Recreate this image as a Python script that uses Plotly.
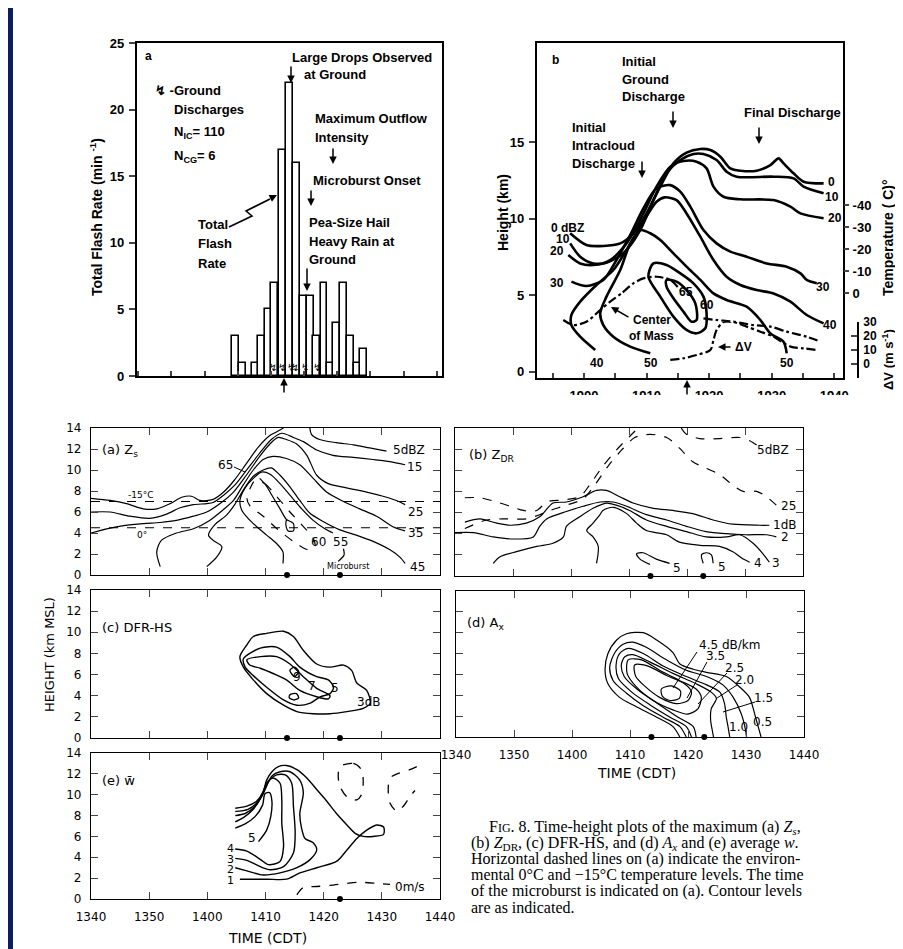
import plotly.graph_objects as go

W, H = 903, 949
NAVY = "#0b1f5e"
TOP_FONT = "Liberation Sans Narrow, Liberation Sans, Arial"
LAB_FONT = "DejaVu Sans"
CAP_FONT = "Liberation Serif"
OFF = 8  # the page body puts the figure 8 px right and down

# ---------------- top (a): total flash rate ----------------
flash_time = [1909.6, 1910.7, 1911.7, 1912.6, 1913.6, 1914.6, 1915.6, 1916.7, 1917.8, 1918.9,
              1919.9, 1920.9, 1921.9, 1923.0, 1924.0, 1924.9, 1926.0, 1927.0, 1928.0, 1929.0]
flash_rate = [3, 1, 0, 1, 3, 5, 7, 17, 22, 16, 6, 6, 3, 7, 1, 4, 7, 3, 1, 2]
cg_time = [1915.3, 1916.6, 1918.1, 1918.6, 1920.2, 1921.9]
cg_rate = [0.6, 0.6, 0.6, 0.6, 0.6, 0.6]

# ---------------- top (b): reflectivity contours, height (km) ----------------
b0_t = [1897.8, 1900.4, 1903.1, 1905.8, 1907.9, 1910.0, 1912.2, 1914.3, 1916.4, 1918.6, 1920.2,
        1921.8, 1923.4, 1925.0, 1927.6, 1929.8, 1931.1, 1931.9, 1933.5, 1935.1, 1938.3]
b0_z = [9.06, 8.29, 8.23, 8.40, 9.06, 10.36, 12.11, 13.63, 14.33, 14.57, 14.50,
        14.07, 13.30, 13.15, 13.15, 13.52, 13.96, 13.63, 12.98, 12.43, 12.32]
b10_t = [1897.8, 1899.4, 1901.5, 1903.6, 1906.3, 1909.0, 1911.1, 1913.2, 1915.4, 1917.5, 1919.1,
         1921.2, 1922.8, 1924.4, 1930.3, 1933.5, 1935.1, 1938.3]
b10_z = [8.40, 7.53, 7.09, 7.14, 7.75, 9.27, 11.23, 12.98, 13.85, 14.24, 14.24,
         13.85, 13.09, 12.76, 12.76, 12.65, 12.11, 11.67]
b20_t = [1897.5, 1899.4, 1901.5, 1904.2, 1906.8, 1909.5, 1911.6, 1913.8, 1915.9, 1918.0, 1919.6,
         1920.7, 1922.3, 1925.0, 1930.3, 1933.0, 1934.6, 1938.3]
b20_z = [7.64, 7.09, 6.99, 7.31, 8.40, 10.36, 12.11, 13.41, 13.78, 13.74, 13.30,
         12.11, 11.45, 11.28, 11.23, 10.80, 10.36, 10.04]
b30_t = [1898.0, 1900.4, 1903.1, 1905.2, 1907.4, 1909.5, 1911.6, 1913.8, 1915.4, 1917.0, 1919.1,
         1921.2, 1923.4, 1926.0, 1929.2, 1932.4, 1934.6, 1935.6, 1937.2]
b30_z = [5.90, 5.61, 6.01, 7.31, 8.95, 10.69, 12.00, 12.21, 11.78, 10.80, 9.27,
         8.40, 7.86, 7.53, 7.09, 6.88, 6.44, 6.01, 5.79]
b40_t = [1901.8, 1899.4, 1898.0, 1898.0, 1899.4, 1902.0, 1904.7, 1906.8, 1909.5, 1911.6, 1912.9,
         1914.8, 1916.4, 1918.6, 1920.7, 1922.8, 1925.0, 1927.6, 1930.3, 1933.0, 1935.6, 1938.3]
b40_z = [1.43, 2.30, 3.06, 3.72, 4.59, 5.68, 6.66, 7.97, 9.82, 11.12, 11.41,
         11.23, 10.36, 8.84, 7.31, 6.22, 5.68, 5.35, 5.13, 4.59, 3.72, 3.17]
b50_t = [1910.6, 1907.4, 1904.7, 1903.1, 1902.6, 1903.6, 1905.8, 1907.4, 1909.0, 1910.6, 1912.2,
         1914.3, 1916.4, 1918.6, 1920.7, 1922.8, 1926.0, 1928.2, 1929.8, 1931.9, 1932.4]
b50_z = [1.21, 1.65, 2.30, 3.06, 3.83, 4.92, 6.66, 8.40, 9.27, 9.06, 8.62,
         7.75, 6.88, 6.01, 5.13, 4.70, 4.26, 3.39, 2.52, 1.97, 1.21]
b60_t = [1911.1, 1913.2, 1915.4, 1917.5, 1919.1, 1919.6, 1919.4, 1918.0, 1916.4, 1914.3, 1912.2, 1910.3, 1911.1]
b60_z = [7.09, 6.99, 6.44, 5.79, 4.92, 3.83, 2.85, 2.52, 2.74, 3.61, 4.92, 6.22, 7.09]
b65_t = [1913.2, 1914.8, 1916.4, 1917.8, 1918.0, 1917.2, 1915.9, 1914.3, 1913.2, 1913.2]
b65_z = [6.01, 5.90, 5.35, 4.48, 3.39, 3.28, 3.94, 4.81, 5.57, 6.01]
com_t = [1896.7, 1898.3, 1900.4, 1902.6, 1904.2, 1906.0, 1907.9, 1909.5, 1911.6, 1913.8, 1915.4, None,
         1919.1, 1921.2, 1923.9, 1927.1, 1929.8, 1932.4, 1935.6, 1937.8]
com_z = [3.39, 3.06, 3.28, 4.04, 4.59, 5.13, 5.79, 6.11, 6.22, 6.01, 5.35, None,
         3.50, 3.39, 3.28, 3.06, 2.96, 2.63, 2.30, 1.97]
dv_t = [1913.8, 1915.9, 1918.0, 1920.2, 1920.7, 1921.2, 1922.3, 1923.9, 1926.0, 1928.2, 1930.3,
        1933.0, 1935.1, 1937.2]
dv_ms = [2.9, 4.1, 6.4, 10.0, 17.1, 24.3, 30.0, 30.0, 26.7, 23.1, 19.5, 12.4, 11.2, 10.0]

# ---------------- bottom panels: minutes after 1340 CDT, height km MSL ----------------
time_ticks = [0, 10, 20, 30, 40, 50, 60]
time_labels = ["1340", "1350", "1400", "1410", "1420", "1430", "1440"]
height_ticks = [0, 2, 4, 6, 8, 10, 12, 14]
dot_t = [33.7, 42.8]
dot_z = [0, 0]

# (a) Zs
iso_t = [0, 60]
iso_m15 = [7.0, 7.0]
iso_0 = [4.5, 4.5]
zs5_t = [0.0, 3.3, 6.1, 9.0, 11.3, 13.6, 15.6, 17.3, 18.7, 21.0, 22.8, 24.6, 26.7, 28.8, 30.8, 32.5, 34.0,
         None, 37.6, 37.9, 39.3, 42.2, 45.1, 47.9, 50.8]
zs5_z = [7.3, 7.1, 6.8, 6.3, 6.3, 6.8, 7.4, 7.5, 7.1, 7.2, 7.9, 9.0, 10.6, 12.2, 13.3, 13.8, 14.4,
         None, 14.1, 13.4, 12.9, 12.6, 12.4, 12.1, 11.8]
zs15_t = [0.0, 3.3, 6.7, 10.1, 13.0, 15.3, 17.6, 19.9, 21.0, 22.8, 24.8, 26.9, 29.0, 31.0, 32.8, 34.8,
          36.5, 38.8, 41.6, 45.1, 48.5, 51.4, 54.0]
zs15_z = [6.0, 6.0, 5.6, 5.4, 5.8, 6.4, 6.7, 6.8, 6.9, 7.6, 8.6, 10.1, 11.6, 12.9, 13.5, 13.1,
          12.7, 11.9, 11.4, 11.2, 11.0, 10.8, 10.5]
zs25_t = [0.0, 2.7, 5.6, 9.0, 11.9, 14.7, 17.6, 19.9, 22.2, 24.5, 26.7, 29.0, 30.8, 32.2, 33.6, 35.3,
          37.1, 38.8, 40.8, 43.9, 47.4, 50.2, 52.5, 54.0]
zs25_z = [4.0, 4.4, 4.7, 4.9, 5.0, 5.2, 5.6, 6.0, 6.8, 7.9, 9.5, 11.3, 12.5, 13.1, 12.9, 12.5,
          11.4, 9.5, 8.7, 8.3, 7.9, 7.5, 7.1, 6.7]
zs35_t = [11.9, 11.3, 12.1, 14.7, 17.6, 20.4, 22.7, 24.5, 26.2, 27.9, 29.6, 31.3, 33.6, 35.9, 38.2,
          40.5, 43.4, 46.2, 49.1, 51.9, 54.0]
zs35_z = [0.8, 2.2, 3.3, 4.0, 4.4, 5.2, 6.2, 7.1, 8.6, 10.0, 11.0, 11.3, 11.1, 10.5, 9.2,
          7.9, 7.0, 6.3, 5.6, 4.6, 4.2]
zs45_t = [19.9, 21.6, 22.5, 21.0, 20.2, 21.3, 23.3, 24.7, 26.2, 27.9, 29.6, 31.0, 32.5, 34.2, 35.9,
          37.6, 39.9, 42.8, 45.6, 48.5, 51.4, 53.1, 54.0]
zs45_z = [0.8, 1.7, 2.7, 3.3, 3.8, 4.8, 5.7, 6.7, 8.1, 9.4, 10.0, 10.2, 9.5, 8.4, 7.1,
          5.9, 5.1, 4.3, 3.8, 3.2, 2.4, 1.7, 1.1]
zs55_t = [33.0, 33.0, 31.9, 30.2, 28.5, 27.0, 25.9, 25.6, 26.5, 27.9, 29.3, 30.8, 32.5, 34.2, 35.9,
          38.2, 40.2, 41.6, None, 43.4, 43.5, 42.5]
zs55_z = [1.1, 2.2, 3.0, 3.8, 4.6, 5.4, 6.2, 7.1, 8.3, 9.2, 9.8, 9.6, 8.7, 7.6, 6.5,
          5.2, 4.4, 4.0, None, 2.5, 1.9, 1.3]
zs60_t = [28.2, 29.9, 31.9, 34.2, 36.2, 38.2, 38.5, 37.3, 34.8, 32.2, 29.6, 27.3, 26.8, 27.4, 28.2]
zs60_z = [9.0, 8.7, 7.5, 6.0, 4.8, 3.5, 2.7, 2.4, 3.2, 4.3, 5.6, 6.6, 7.3, 8.3, 9.0]
zs65_t = [29.0, 30.0, 31.2, 32.5, 33.6, 34.8, 34.8, 33.9, 33.5, 33.6]
zs65_z = [9.2, 8.6, 7.5, 6.3, 5.3, 4.9, 4.2, 4.2, 4.8, 5.3]

# (b) ZDR
zdr5_t = [1.7, 4.3, 7.2, 9.5, 11.8, 14.1, 15.8, 18.7, 21.5, 23.2, 25.5, 27.8, 30.1, 31.6, None,
          39.0, 39.9, 42.2, 45.6, 49.1, 50.8, 52.0]
zdr5_z = [7.4, 7.4, 7.0, 6.6, 6.2, 6.2, 7.0, 7.2, 7.5, 8.6, 10.4, 11.9, 13.2, 14.0, None,
          14.0, 13.4, 13.0, 13.0, 13.1, 12.8, 12.4]
zdr25_t = [1.7, 5.5, 8.9, 12.3, 14.6, 16.4, 19.2, 22.1, 24.1, 26.4, 28.7, 31.0, 33.6, 36.5, 38.7,
           41.0, 43.3, 45.6, 47.9, 49.7, 52.0, 53.7, 55.4]
zdr25_z = [4.5, 5.3, 5.4, 5.4, 5.8, 6.2, 6.7, 7.3, 8.6, 10.4, 11.9, 13.1, 13.4, 13.1, 12.1,
           10.8, 10.2, 9.6, 8.6, 8.0, 8.0, 7.5, 6.7]
zdr1_t = [1.7, 4.3, 7.2, 9.5, 12.3, 14.6, 16.9, 19.2, 22.1, 24.4, 26.1, 28.4, 30.7, 34.2, 37.6,
          41.0, 44.5, 47.9, 52.5, 54.2]
zdr1_z = [5.1, 5.4, 5.0, 4.8, 5.0, 5.6, 6.9, 7.0, 7.5, 8.1, 8.1, 7.5, 6.9, 6.4, 6.2,
          5.9, 5.3, 4.9, 4.8, 4.8]
zdr2_t = [0.0, 3.2, 6.6, 10.0, 13.5, 14.6, 15.8, 19.2, 22.1, 25.0, 27.3, 29.6, 33.0, 36.5, 39.9,
          43.3, 46.8, 50.2, 53.7, 55.4]
zdr2_z = [4.1, 4.1, 3.7, 3.5, 3.7, 4.7, 5.4, 6.1, 6.6, 7.0, 7.0, 6.6, 5.8, 5.3, 4.7,
          4.2, 4.0, 3.9, 3.9, 3.7]
zdr3_t = [6.6, 7.7, 10.6, 14.1, 16.9, 18.7, 19.2, 21.5, 23.8, 26.1, 27.8, 30.1, 33.0, 36.5, 39.9,
          43.3, 46.8, 49.1, 51.4, 53.1, 54.2]
zdr3_z = [1.2, 1.8, 2.3, 2.8, 3.1, 3.7, 4.7, 5.6, 6.4, 6.9, 6.7, 6.2, 5.3, 4.7, 4.2,
          3.7, 3.7, 3.9, 3.1, 2.1, 1.3]
zdr4_t = [24.4, 24.7, 23.8, 22.7, 23.8, 25.0, 25.5, 27.3, 29.6, 31.3, 33.0, 36.5, 38.7, 42.2, 45.6,
          47.9, 49.7, 50.8]
zdr4_z = [1.2, 2.8, 3.7, 4.3, 5.0, 5.8, 6.2, 6.5, 5.9, 5.0, 4.3, 3.9, 3.2, 2.9, 2.8,
          2.3, 1.6, 1.3]
zdr5db_t = [33.6, 31.9, 31.3, 32.4, 34.7, 37.0, None, 42.8, 42.5, 43.3, 44.2, 44.5]
zdr5db_z = [1.1, 1.6, 2.1, 2.2, 1.6, 1.2, None, 1.2, 2.0, 2.2, 2.0, 1.2]

# (c) DFR-HS
dfr3_t = [27.9, 30.2, 33.1, 34.8, 36.5, 38.8, 41.1, 43.4, 44.8, 45.7, 47.4, 48.0, 46.8, 44.0, 41.1,
          38.2, 35.4, 33.1, 30.2, 27.9, 26.2, 25.6, 26.8, 27.9]
dfr3_z = [9.6, 9.9, 10.1, 9.6, 8.3, 7.0, 6.7, 6.9, 6.4, 5.2, 4.5, 3.3, 2.8, 2.5, 2.3,
          2.3, 2.5, 3.1, 4.2, 5.5, 6.7, 7.7, 8.8, 9.6]
dfr5_t = [26.2, 29.1, 31.9, 34.2, 35.9, 38.8, 40.8, 41.7, 41.1, 39.4, 37.7, 35.4, 33.1, 30.2, 27.9, 26.5, 26.2]
dfr5_z = [7.5, 8.5, 8.6, 7.7, 6.7, 5.8, 5.5, 4.8, 4.2, 3.9, 3.3, 3.1, 3.6, 4.8, 5.9, 6.7, 7.5]
dfr7_t = [26.8, 29.1, 31.9, 34.2, 36.5, 38.8, 41.1, 40.8, 38.8, 35.9, 33.6, 31.3, 29.1, 27.3, 26.8]
dfr7_z = [7.4, 7.7, 7.7, 7.0, 5.8, 4.7, 4.0, 3.7, 3.9, 4.5, 5.5, 6.1, 6.6, 6.9, 7.4]
dfr9_t = [34.2, 35.0, 35.7, 35.0, 34.2, None, 34.2, 35.3, 35.7, 34.9, 34.1, 34.2]
dfr9_z = [6.4, 6.7, 6.3, 5.8, 6.4, None, 4.1, 4.2, 3.8, 3.6, 3.8, 4.1]

# (d) Ax
ax05_t = [38.6, 37.4, 34.6, 31.1, 28.2, 26.2, 25.7, 26.2, 27.7, 29.4, 32.3, 34.6, 37.4, 38.6, 40.9,
          43.2, 46.6, 48.9, 50.6, 51.5, 52.1, 52.6]
ax05_z = [0.0, 1.0, 1.9, 2.9, 3.8, 5.1, 6.4, 8.0, 9.3, 9.9, 10.0, 9.3, 8.1, 7.0, 6.5,
          6.2, 5.8, 4.8, 3.8, 2.2, 1.0, 0.0]
ax10_t = [39.7, 38.6, 35.7, 32.3, 29.4, 27.1, 26.5, 27.4, 28.8, 30.5, 32.8, 36.3, 39.7, 43.2, 46.0,
          47.8, 49.2, 49.8, 50.1]
ax10_z = [0.0, 1.0, 1.9, 3.0, 4.2, 5.4, 6.7, 8.1, 8.9, 9.1, 8.6, 7.4, 6.4, 5.8, 5.0,
          3.8, 2.2, 1.0, 0.0]
ax15_t = [40.6, 39.7, 36.9, 33.4, 30.3, 28.0, 27.6, 28.2, 29.7, 32.3, 35.7, 39.7, 43.2, 45.5, 46.3,
          46.6, 46.9, 47.2]
ax15_z = [0.0, 1.0, 1.9, 3.1, 4.3, 5.6, 6.9, 8.0, 8.5, 8.0, 6.8, 5.8, 5.0, 4.3, 3.2,
          1.9, 1.0, 0.0]
ax20_t = [41.4, 40.9, 38.3, 34.8, 31.4, 29.0, 28.5, 29.1, 30.5, 33.4, 37.4, 41.4, 44.0, 44.9, 44.0,
          43.9, 44.2, 44.4]
ax20_z = [0.0, 1.0, 1.9, 3.2, 4.5, 5.8, 6.9, 7.7, 7.9, 7.2, 6.1, 5.1, 4.3, 3.7, 2.7,
          1.6, 0.6, 0.0]
ax25_t = [29.7, 32.0, 35.1, 38.6, 41.4, 42.3, 41.7, 40.0, 37.4, 34.0, 31.1, 29.5, 29.7]
ax25_z = [7.4, 7.4, 6.4, 5.4, 4.6, 3.8, 2.7, 2.2, 2.6, 3.5, 4.8, 6.1, 7.4]
ax35_t = [30.8, 33.1, 36.3, 39.4, 40.6, 40.0, 38.0, 35.1, 32.5, 31.0, 30.8]
ax35_z = [6.9, 6.8, 5.9, 5.1, 4.3, 3.5, 3.2, 3.8, 4.9, 5.8, 6.9]
ax45_t = [35.4, 37.1, 38.7, 38.5, 36.9, 35.6, 35.4]
ax45_z = [4.6, 4.9, 4.4, 3.7, 3.5, 3.9, 4.6]

# (e) mean w
w1_t = [25.6, 30.2, 33.6, 35.9, 38.8, 42.2, 44.0, 45.7, 47.4, 49.1, 50.3, 50.3, 48.5, 46.8, 45.4,
        44.0, 42.2, 40.5, 38.8, 37.1, 35.4, 33.6, 32.2, 31.1, 30.2, 29.6, 28.5, 26.8, 24.8]
w1_z = [1.9, 1.9, 1.9, 2.5, 3.0, 3.6, 4.7, 5.8, 6.6, 7.1, 6.9, 6.2, 6.0, 6.0, 6.3,
        7.1, 8.2, 9.4, 10.5, 11.6, 12.4, 12.8, 12.7, 12.2, 11.4, 10.3, 9.4, 8.9, 8.7]
w2_t = [24.8, 26.8, 29.6, 32.5, 35.4, 37.7, 38.8, 38.2, 36.8, 36.2, 35.9, 36.5, 35.9, 34.2, 32.5,
        31.1, 29.9, 28.8, 27.0, 24.8]
w2_z = [3.0, 2.7, 2.3, 2.5, 3.0, 3.8, 4.7, 5.4, 5.8, 6.8, 8.2, 10.2, 11.4, 12.2, 12.2,
        11.8, 10.5, 9.4, 8.6, 8.4]
w3_t = [24.8, 26.8, 29.1, 30.8, 33.1, 34.8, 35.1, 34.8, 34.5, 33.4, 31.9, 30.7, 29.5, 28.2, 26.5, 24.8]
w3_z = [3.9, 3.7, 3.1, 2.8, 3.1, 4.4, 6.3, 8.9, 11.1, 11.9, 11.9, 11.4, 10.0, 8.9, 8.2, 8.0]
w4_t = [24.8, 26.8, 29.1, 30.5, 32.5, 33.1, 32.8, 32.8, 32.5, 31.3, 30.2, 29.3, 27.9, 26.2, 24.8]
w4_z = [4.8, 4.6, 3.8, 3.3, 3.6, 5.0, 7.3, 9.5, 11.1, 11.6, 11.1, 9.8, 8.6, 7.8, 7.4]
w5_t = [28.8, 30.2, 30.9, 31.1, 30.7, 29.9, 29.5, 28.2, 26.5, 24.8]
w5_z = [5.5, 6.6, 7.9, 9.4, 10.2, 10.1, 9.0, 7.9, 7.2, 6.8]
wneg_t = [42.8, 45.1, 46.5, 46.8, 46.5, 45.7, 44.0, 42.8, 42.5, 42.8, None,
          56.0, 54.8, 53.1, 51.4, 51.1, 51.4, 52.6, 53.7, 54.8, 55.7, None,
          35.4, 36.5, 38.8, 41.1, 44.0, 46.2, 49.1, 51.4]
wneg_z = [12.7, 13.0, 12.4, 11.1, 10.0, 9.5, 9.8, 10.8, 11.8, 12.7, None,
          12.7, 12.4, 12.1, 11.6, 10.5, 9.2, 8.4, 8.9, 9.8, 10.4, None,
          0.4, 1.1, 1.2, 1.3, 1.5, 1.6, 1.5, 1.4]

caption_lines = [
    "F<span style='font-size:12px'>IG</span>. 8. Time-height plots of the maximum (a) <i>Z<sub>s</sub></i>,",
    "(b) <i>Z</i><sub>DR</sub>, (c) DFR-HS, and (d) <i>A<sub>x</sub></i> and (e) average <i>w</i>.",
    "Horizontal dashed lines on (a) indicate the environ-",
    "mental 0°C and \u221215°C temperature levels. The time",
    "of the microburst is indicated on (a). Contour levels",
    "are as indicated.",
]


# positions below are screen pixels of the page; convert to figure paper fractions
def px(x):
    return (x - OFF) / W


def py(y):
    return 1 - (y - OFF) / H


fig = go.Figure()


def add_line(t, z, xa, ya, width=1.2, dash="solid"):
    fig.add_trace(go.Scatter(x=t, y=z, xaxis=xa, yaxis=ya, mode="lines", connectgaps=False,
                             line=dict(color="black", width=width, dash=dash, shape="spline", smoothing=0.8),
                             showlegend=False, hoverinfo="skip"))


def text(s, x, y, size=13, font=TOP_FONT, weight="bold", anchor="left", angle=0):
    fig.add_annotation(text=s, x=px(x), y=py(y), xref="paper", yref="paper", showarrow=False,
                       xanchor=anchor, yanchor="middle", textangle=angle,
                       font=dict(family=font, size=size, color="black", weight=weight))


def arrow(x, y_tail, y_head, x_tail=None, width=1.5):
    dx = 0 if x_tail is None else x_tail - x
    fig.add_annotation(text="", x=px(x), y=py(y_head), xref="paper", yref="paper", ax=dx, ay=y_tail - y_head,
                       showarrow=True, arrowhead=2, arrowsize=1, arrowwidth=width, arrowcolor="black")


def seg(x0, y0, x1, y1, width=1):
    fig.add_shape(type="line", x0=px(x0), y0=py(y0), x1=px(x1), y1=py(y1), xref="paper", yref="paper",
                  line=dict(color="black", width=width))


# ---- top (a) ----
fig.add_trace(go.Bar(x=flash_time, y=flash_rate, width=1.05, xaxis="x", yaxis="y",
                     marker=dict(color="white", line=dict(color="black", width=1.6)),
                     showlegend=False, hoverinfo="skip"))
fig.add_trace(go.Scatter(x=cg_time, y=cg_rate, mode="text", text=["↯"] * len(cg_time), xaxis="x", yaxis="y",
                         textfont=dict(size=10, color="black"), showlegend=False, hoverinfo="skip"))

# ---- top (b) ----
for t, z in [(b0_t, b0_z), (b10_t, b10_z), (b20_t, b20_z), (b30_t, b30_z), (b40_t, b40_z),
             (b50_t, b50_z), (b60_t, b60_z), (b65_t, b65_z)]:
    add_line(t, z, "x2", "y2", width=2.6)
add_line(com_t, com_z, "x2", "y2", width=2.2, dash="dashdot")
add_line(dv_t, dv_ms, "x2", "y4", width=2.2, dash="dashdot")
fig.add_trace(go.Scatter(x=[None], y=[None], xaxis="x2", yaxis="y3", showlegend=False))

# ---- bottom panels ----
add_line(iso_t, iso_m15, "x3", "y5", width=1.1, dash="dash")
add_line(iso_t, iso_0, "x3", "y5", width=1.1, dash="dash")
for t, z in [(zs5_t, zs5_z), (zs15_t, zs15_z), (zs25_t, zs25_z), (zs35_t, zs35_z),
             (zs45_t, zs45_z), (zs55_t, zs55_z), (zs65_t, zs65_z)]:
    add_line(t, z, "x3", "y5")
add_line(zs60_t, zs60_z, "x3", "y5", dash="dash")

add_line(zdr5_t, zdr5_z, "x4", "y6", dash="dash")
add_line(zdr25_t, zdr25_z, "x4", "y6", dash="dash")
for t, z in [(zdr1_t, zdr1_z), (zdr2_t, zdr2_z), (zdr3_t, zdr3_z), (zdr4_t, zdr4_z), (zdr5db_t, zdr5db_z)]:
    add_line(t, z, "x4", "y6")

for t, z in [(dfr3_t, dfr3_z), (dfr5_t, dfr5_z), (dfr7_t, dfr7_z), (dfr9_t, dfr9_z)]:
    add_line(t, z, "x5", "y7", width=1.4)

for t, z in [(ax05_t, ax05_z), (ax10_t, ax10_z), (ax15_t, ax15_z), (ax20_t, ax20_z),
             (ax25_t, ax25_z), (ax35_t, ax35_z), (ax45_t, ax45_z)]:
    add_line(t, z, "x6", "y8")

for t, z in [(w1_t, w1_z), (w2_t, w2_z), (w3_t, w3_z), (w4_t, w4_z), (w5_t, w5_z)]:
    add_line(t, z, "x7", "y9", width=1.4)
add_line(wneg_t, wneg_z, "x7", "y9", width=1.3, dash="dash")

for xa, ya, dts in [("x3", "y5", dot_t), ("x4", "y6", dot_t), ("x5", "y7", dot_t), ("x6", "y8", dot_t),
                    ("x7", "y9", dot_t[1:])]:
    fig.add_trace(go.Scatter(x=dts, y=dot_z[:len(dts)], xaxis=xa, yaxis=ya, mode="markers", cliponaxis=False,
                             marker=dict(color="black", size=6), showlegend=False, hoverinfo="skip"))

# ---- axes ----
top_tick = dict(family=TOP_FONT, size=13, color="black", weight="bold")
bot_tick = dict(family=LAB_FONT, size=12, color="black")
common = dict(showgrid=False, zeroline=False, showline=True, linecolor="black", automargin=False)


def bottom_x(dom, anchor, labels):
    return dict(domain=[px(dom[0]), px(dom[1])], anchor=anchor, range=[0, 60], tickvals=time_ticks,
                ticktext=time_labels, showticklabels=labels, ticks="inside", ticklen=7, tickwidth=1.2,
                mirror="allticks", linewidth=1.3, tickfont=bot_tick, ticklabelstandoff=6, **common)


def bottom_y(dom, anchor, labels):
    return dict(domain=[py(dom[1]), py(dom[0])], anchor=anchor, range=[0, 14], tickvals=height_ticks,
                showticklabels=labels, ticks="inside", ticklen=7, tickwidth=1.2, mirror="allticks",
                linewidth=1.3, tickfont=bot_tick, ticklabelstandoff=6, **common)


tick5a = [1895 + 5 * i for i in range(10)]
fig.update_layout(
    width=W, height=H, margin=dict(l=0, r=0, t=0, b=0, autoexpand=False),
    paper_bgcolor=NAVY, plot_bgcolor="rgba(0,0,0,0)", bargap=0, showlegend=False,
    xaxis=dict(domain=[px(137), px(442)], anchor="y", range=[1894.8, 1940.8], tickvals=tick5a,
               ticktext=[str(v) if v % 10 == 0 else "" for v in tick5a], ticks="inside", ticklen=5,
               tickwidth=1.5, mirror=True, linewidth=2.2, tickfont=top_tick, ticklabelstandoff=10, **common),
    yaxis=dict(domain=[py(376), py(43)], anchor="x", range=[0, 25], tickvals=[0, 5, 10, 15, 20, 25],
               ticks="outside", ticklen=6, tickwidth=1.5, mirror=True, linewidth=2.2, tickfont=top_tick,
               ticklabelstandoff=2, **common),
    xaxis2=dict(domain=[px(537), px(843)], anchor="y2", range=[1892.5, 1941.4], tickvals=tick5a,
                ticktext=[str(v) if v % 10 == 0 else "" for v in tick5a], ticks="inside", ticklen=5,
                tickwidth=1.5, mirror=True, linewidth=2.2, tickfont=top_tick, ticklabelstandoff=4, **common),
    yaxis2=dict(domain=[py(378), py(43)], anchor="x2", range=[-0.4, 21.5], tickvals=[0, 5, 10, 15],
                ticks="outside", ticklen=6, tickwidth=1.5, mirror=True, linewidth=2.2, tickfont=top_tick,
                ticklabelstandoff=2, **common),
    yaxis3=dict(domain=[py(293), py(205)], anchor="x2", side="right", range=[0, -40],
                tickvals=[0, -10, -20, -30, -40], ticktext=["0", "-10", "-20", "-30", "-40"],
                ticks="outside", ticklen=5, tickwidth=1.5, showline=False, showgrid=False, zeroline=False,
                automargin=False, tickfont=top_tick, ticklabelstandoff=1),
    yaxis4=dict(domain=[py(378), py(322)], anchor="free", position=px(858), side="right", range=[-10, 30],
                tickvals=[-10, 0, 10, 20, 30], ticktext=["", "0", "10", "20", "30"], ticks="inside",
                ticklen=6, tickwidth=1.5, linewidth=1.8, tickfont=dict(family=TOP_FONT, size=12,
                color="black", weight="bold"), ticklabelstandoff=2, **common),
    xaxis3=bottom_x((91, 440), "y5", False), yaxis5=bottom_y((428, 575), "x3", True),
    xaxis4=bottom_x((455, 803), "y6", False), yaxis6=bottom_y((428, 576), "x4", False),
    xaxis5=bottom_x((91, 440), "y7", False), yaxis7=bottom_y((590, 738), "x5", True),
    xaxis6=bottom_x((456, 804), "y8", True), yaxis8=bottom_y((591, 737), "x6", False),
    xaxis7=bottom_x((91, 440), "y9", True), yaxis9=bottom_y((753, 899), "x7", True),
)

# white page on the navy slide
fig.add_shape(type="rect", x0=px(13), x1=1, y0=0, y1=1, xref="paper", yref="paper",
              fillcolor="white", line=dict(width=0), layer="below")
# the lower figure overlaps the tick labels of the upper one
fig.add_shape(type="rect", x0=px(13), x1=1, y0=py(404), y1=py(395), xref="paper", yref="paper",
              fillcolor="white", line=dict(width=0), layer="above")

# ---- top (a) annotations ----
text("a", 143, 56, size=12)
text("Large Drops Observed", 290, 57)
text("at Ground", 302, 74)
arrow(291, 65, 83)
text("↯ -Ground", 153, 90)
text("Discharges", 172, 109)
text("N<sub>IC</sub>= 110", 172, 133)
text("N<sub>CG</sub>= 6", 172, 157)
text("Maximum Outflow", 313, 118)
text("Intensity", 313, 137)
arrow(333, 147, 164)
text("Microburst Onset", 311, 180)
arrow(311, 189, 206)
text("Pea-Size Hail", 307, 222)
text("Heavy Rain at", 307, 241)
text("Ground", 307, 259)
arrow(307, 267, 291)
text("Total", 196, 225)
text("Flash", 196, 244)
text("Rate", 196, 263)
fig.add_shape(type="path", xref="paper", yref="paper", line=dict(color="black", width=1.6),
              path=f"M {px(229)} {py(227)} L {px(252)} {py(216)} L {px(246)} {py(211)} L {px(270)} {py(199)}")
arrow(277, 199, 195, x_tail=269)
arrow(284, 394, 378)
text("Total Flash Rate (min <sup>-1</sup>)", 96, 217, size=14, anchor="center", angle=-90)

# ---- top (b) annotations ----
text("b", 550, 60, size=12)
text("Initial", 620, 62)
text("Ground", 620, 80)
text("Discharge", 620, 97)
arrow(673, 110, 128)
text("Initial", 570, 127)
text("Intracloud", 570, 145)
text("Discharge", 570, 163)
arrow(642, 160, 178)
text("Final Discharge", 742, 113)
arrow(759, 126, 144)
arrow(687, 396, 380)
for s, x, y in [("0 dBZ", 567, 228), ("10", 563, 239), ("20", 557, 251), ("30", 557, 283),
                ("40", 597, 363), ("50", 651, 363), ("0", 831, 182), ("10", 832, 197),
                ("20", 835, 218), ("30", 823, 287), ("40", 830, 325), ("50", 787, 363),
                ("65", 686, 292), ("60", 707, 305)]:
    text(s, x, y, size=12, anchor="center")
text("Center", 631, 320, size=12)
text("of Mass", 627, 336, size=12)
arrow(611, 318, 307, x_tail=630)
text("ΔV", 733, 347, size=12)
arrow(718, 347, 347, x_tail=732)
text("Height (km)", 503, 213, size=14, anchor="center", angle=-90)
text("Temperature ( C)°", 888, 238, size=14, anchor="center", angle=-90)
text("ΔV (m s<sup>-1</sup>)", 888, 360, size=13, anchor="center", angle=-90)

# ---- bottom annotations ----
bt = dict(size=13, font=LAB_FONT, weight="normal")
text("(a) Z<sub>s</sub>", 100, 450, **bt)
text("(b) Z<sub>DR</sub>", 467, 455, **bt)
text("(c) DFR-HS", 100, 627, **bt)
text("(d) A<sub>x</sub>", 465, 623, **bt)
text("(e) w\u0304", 100, 780, **bt)
cl = dict(size=12, font=LAB_FONT, weight="normal")
text("65", 225, 465, anchor="center", **cl)
seg(234, 467, 245, 472)
text("5dBZ", 427, 450, anchor="right", **cl)
text("15", 424, 467, anchor="right", **cl)
text("25", 425, 512, anchor="right", **cl)
text("35", 425, 533, anchor="right", **cl)
text("45", 427, 567, anchor="right", **cl)
text("60", 318, 542, anchor="center", **cl)
text("55", 340, 542, anchor="center", **cl)
text("Microburst", 348, 566, size=8, font=LAB_FONT, weight="normal", anchor="center")
text("-15°C", 140, 495, size=9, font=LAB_FONT, weight="normal", anchor="center")
text("0°", 142, 535, size=9, font=LAB_FONT, weight="normal", anchor="center")

text("5dBZ", 773, 450, anchor="center", **cl)
text("25", 788, 506, anchor="center", **cl)
text("1dB", 784, 525, anchor="center", **cl)
text("2", 785, 537, anchor="center", **cl)
text("4", 758, 563, anchor="center", **cl)
text("3", 776, 563, anchor="center", **cl)
text("5", 677, 568, anchor="center", **cl)
text("5", 722, 567, anchor="center", **cl)

text("9", 297, 677, anchor="center", **cl)
text("7", 312, 686, anchor="center", **cl)
text("5", 335, 688, anchor="center", **cl)
text("3dB", 368, 702, anchor="center", **cl)

text("4.5 dB/km", 729, 645, anchor="center", **cl)
text("3.5", 715, 656, anchor="center", **cl)
text("2.5", 734, 668, anchor="center", **cl)
text("2.0", 744, 680, anchor="center", **cl)
text("1.5", 763, 698, anchor="center", **cl)
text("1.0", 738, 727, anchor="center", **cl)
text("0.5", 762, 722, anchor="center", **cl)
seg(697, 652, 673, 688)
seg(707, 662, 687, 698)
seg(727, 673, 698, 704)
seg(737, 685, 717, 698)
seg(755, 702, 723, 712)

sl = dict(size=11, font=LAB_FONT, weight="normal")
text("1", 230, 880, anchor="center", **sl)
text("2", 230, 869, anchor="center", **sl)
text("3", 230, 859, anchor="center", **sl)
text("4", 230, 848, anchor="center", **sl)
text("5", 252, 838, anchor="center", **cl)
text("0m/s", 410, 887, anchor="center", **cl)

text("HEIGHT (km MSL)", 49, 655, size=13, font=LAB_FONT, weight="normal", anchor="center", angle=-90)
text("TIME (CDT)", 636, 773, size=14, font=LAB_FONT, weight="normal", anchor="center")
text("TIME (CDT)", 267, 938, size=14, font=LAB_FONT, weight="normal", anchor="center")

for i, line in enumerate(caption_lines):
    text(line, 487 if i == 0 else 469, 827 + 16 * i, size=16, font=CAP_FONT, weight="normal")

fig.write_html("out.html")
